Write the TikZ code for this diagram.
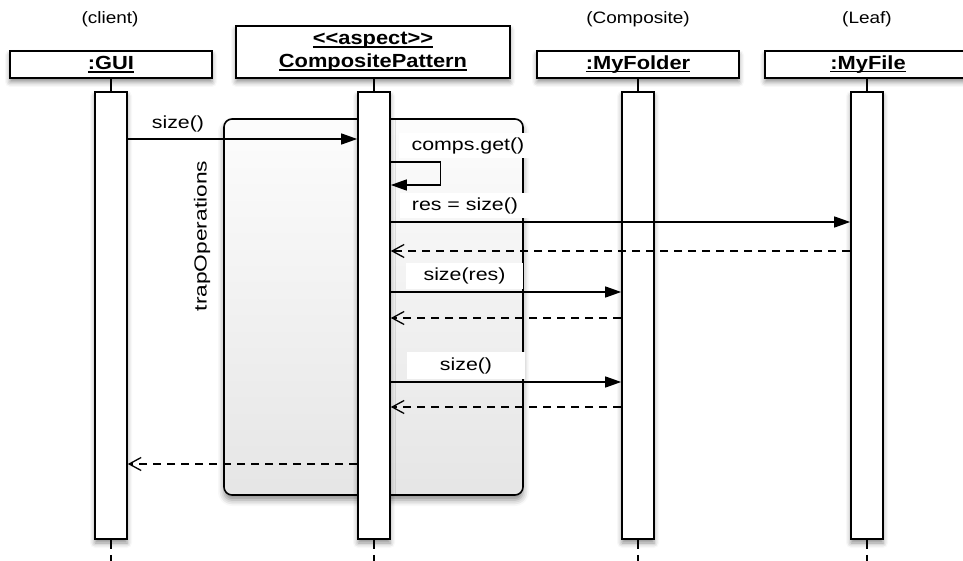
\documentclass[tikz,border=0pt]{standalone}
\usepackage{fontspec}
\setmainfont{Liberation Sans}
\newfontfamily\msgfont[FakeStretch=1.22]{Liberation Sans}
\newfontfamily\sidefont[FakeStretch=1.3]{Liberation Sans}
\newfontfamily\capfont[FakeStretch=1.15]{Liberation Sans}
\newfontfamily\hdrfont[FakeStretch=1.15]{Liberation Sans Bold}
\usetikzlibrary{arrows.meta,shadows.blur}

% underlined object name
\newcommand\objname[1]{\setbox0\hbox{#1}\rlap{\rule[-3pt]{\wd0}{1.5pt}}\box0}

\tikzset{
  softshadow/.style={blur shadow={shadow xshift=0pt, shadow yshift=-4pt,
      shadow blur radius=5pt, shadow opacity=45}},
  hdr/.style={draw, line width=1.6pt, fill=white, softshadow, inner sep=0pt,
      align=center, font=\hdrfont\fontsize{19}{22}\selectfont},
  bar/.style={draw, line width=1.6pt, fill=white, softshadow, inner sep=0pt,
      minimum width=32pt, minimum height=447pt},
  role/.style={inner sep=0pt, font=\capfont\fontsize{16.5}{19}\selectfont},
  lbl/.style={fill=white, inner sep=0pt, font=\msgfont\fontsize{17.5}{20}\selectfont},
  sidelbl/.style={fill=white, inner sep=0pt, font=\sidefont\fontsize{17.5}{20}\selectfont},
  stem/.style={line width=1.4pt},
  tail/.style={line width=1.4pt, dash pattern=on 9pt off 6pt},
  msg/.style={line width=1.3pt, -{Triangle[length=16pt,width=11pt]}},
  ret/.style={line width=1.3pt, dash pattern=on 8pt off 6pt,
      -{Straight Barb[length=12pt,width=13pt,line width=1.3pt]}},
  fragment/.style={draw, line width=1.6pt, rounded corners=8pt,
      top color=black!1, bottom color=black!10,
      blur shadow={shadow xshift=0pt, shadow yshift=-5pt,
      shadow blur radius=6pt, shadow opacity=45}},
}

\begin{document}
\begin{tikzpicture}[x=1pt, y=-1pt]
  \path[use as bounding box] (0,0) rectangle (963,561);
  \clip (0,0) rectangle (963,561);

  % combined fragment around the trapped calls
  \node[fragment, minimum width=299pt, minimum height=376pt] (frag) at (373.5,307) {};
  \node[sidelbl, rotate=90, minimum width=168pt, minimum height=26pt] (trap) at (202,236)
      {trapOperations};

  % roles
  \node[role] (rGUI) at (110,19) {(client)};
  \node[role] (rFolder) at (638,19) {(Composite)};
  \node[role] (rFile) at (867,19) {(Leaf)};

  % activation bars
  \node[bar] (guiB) at (111,315.5) {};
  \node[bar] (cpB) at (374,315.5) {};
  \node[bar] (foB) at (638,315.5) {};
  \node[bar] (fiB) at (867,315.5) {};

  % object headers
  \node[hdr, minimum width=202pt, minimum height=27pt] (gui) at (111,64.5) {\objname{:GUI}};
  \node[hdr, minimum width=274pt, minimum height=52pt] (cp) at (373,52)
      {\objname{<<aspect>>}\\[1pt]\objname{CompositePattern}};
  \node[hdr, minimum width=202pt, minimum height=27pt] (fo) at (638,64.5) {\objname{:MyFolder}};
  \node[hdr, minimum width=206pt, minimum height=27pt] (fi) at (868,64.5) {\objname{:MyFile}};

  % lifelines
  \foreach \o/\b in {gui/guiB, cp/cpB, fo/foB, fi/fiB} {
    \draw[stem] (\o.south -| \b.north) -- (\b.north);
    \draw[tail] (\b.south) -- ++(0,26);
  }

  % messages
  \draw[msg] (guiB.east |- 0,139) -- (cpB.west |- 0,139);
  \draw[msg] (cpB.east |- 0,162) -- ++(50,0) |- (cpB.east |- 0,185);
  \draw[msg] (cpB.east |- 0,222) -- (fiB.west |- 0,222);
  \draw[ret] (fiB.west |- 0,251) -- (cpB.east |- 0,251);
  \draw[msg] (cpB.east |- 0,292) -- (foB.west |- 0,292);
  \draw[ret] (foB.west |- 0,318) -- (cpB.east |- 0,318);
  \draw[msg] (cpB.east |- 0,382) -- (foB.west |- 0,382);
  \draw[ret] (foB.west |- 0,407) -- (cpB.east |- 0,407);
  \draw[ret] (cpB.west |- 0,464) -- (guiB.east |- 0,464);

  % message labels
  \node[lbl, minimum width=74pt, minimum height=22pt] (l1) at (178,124) {size()};
  \node[lbl, minimum width=138pt, minimum height=25pt] (l2) at (468,145.5) {comps.get()};
  \node[lbl, minimum width=130pt, minimum height=25pt] (l3) at (465,205.5) {res = size()};
  \node[lbl, minimum width=117pt, minimum height=26pt] (l4) at (464.5,276) {size(res)};
  \node[lbl, minimum width=118pt, minimum height=27pt] (l5) at (466,365.5) {size()};
\end{tikzpicture}
\end{document}
